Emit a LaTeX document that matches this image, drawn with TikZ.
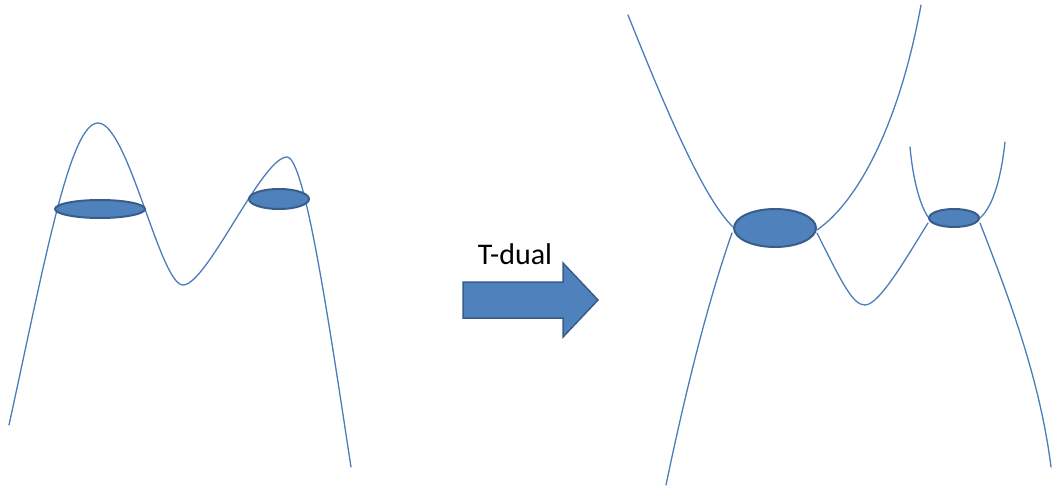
\documentclass[tikz,border=0pt]{standalone}
\usepackage{fontspec}
\setmainfont{Carlito}
\definecolor{curveblue}{HTML}{4A7EBB}
\definecolor{fillblue}{HTML}{4F81BD}
\definecolor{edgeblue}{HTML}{385D8A}
\tikzset{
  curve/.style={draw=curveblue, line width=1.3pt, line cap=round},
  disc/.style={fill=fillblue, draw=edgeblue, line width=2pt},
  blockarrow/.style={fill=fillblue, draw=edgeblue, line width=1.5pt, line join=miter},
  lbl/.style={font=\fontsize{30}{36}\selectfont, text=black, inner sep=0pt}
}
\begin{document}
\begin{tikzpicture}[x=1pt,y=-1pt]
\useasboundingbox (0,0) rectangle (1052,489);
% left picture
\coordinate (l0) at (9,425);
\coordinate (p1) at (98,123);
\coordinate (v1) at (183,285);
\coordinate (p2) at (287,157);
\coordinate (l1) at (351,467);
\draw[curve] (l0) .. controls (45,260) and (70,123) .. (p1)
  .. controls (128,123) and (160,285) .. (v1)
  .. controls (207,285) and (262,157) .. (p2)
  .. controls (305,157) and (330,330) .. (l1);
\draw[disc] (100,209) ellipse [x radius=45, y radius=9];
\draw[disc] (279,199) ellipse [x radius=30, y radius=10];
% arrow
\draw[blockarrow] (463,282) -- (563,282) -- (563,263) -- (598,300) -- (563,337) -- (563,318) -- (463,318) -- cycle;
\node[lbl] (tdual) at (515,254) {T-dual};
% right picture
\coordinate (a0) at (628,15);
\coordinate (a1) at (733,227);
\coordinate (b0) at (817,230);
\coordinate (b1) at (921,5);
\coordinate (c0) at (732,233);
\coordinate (c1) at (666,485);
\coordinate (d0) at (817,233);
\coordinate (v2) at (865,305);
\coordinate (d1) at (928,223);
\coordinate (e0) at (910,147);
\coordinate (e1) at (928,217);
\coordinate (f0) at (980,218);
\coordinate (f1) at (1005,142);
\coordinate (g0) at (980,223);
\coordinate (g1) at (1051,467);
\draw[curve] (a0) .. controls (670,120) and (705,200) .. (a1);
\draw[curve] (b0) .. controls (860,200) and (900,120) .. (b1);
\draw[curve] (c0) .. controls (712,290) and (690,370) .. (c1);
\draw[curve] (d0) .. controls (843,285) and (853,305) .. (v2)
  .. controls (879,305) and (905,260) .. (d1);
\draw[curve] (e0) .. controls (913,180) and (920,205) .. (e1);
\draw[curve] (f0) .. controls (995,205) and (1002,170) .. (f1);
\draw[curve] (g0) .. controls (1010,300) and (1040,380) .. (g1);
\draw[disc] (775,228) ellipse [x radius=41, y radius=19];
\draw[disc] (954,218) ellipse [x radius=25, y radius=9];
\end{tikzpicture}
\end{document}
